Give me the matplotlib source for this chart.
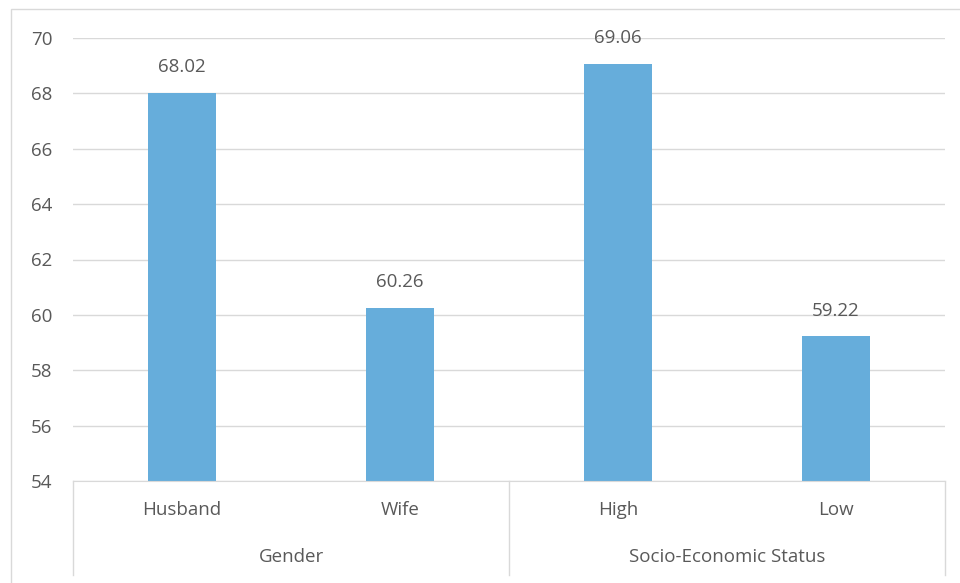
import matplotlib.pyplot as plt
from matplotlib.patches import Rectangle
from matplotlib.lines import Line2D

plt.rcParams['font.family'] = ['Open Sans', 'DejaVu Sans']

categories = ['Husband', 'Wife', 'High', 'Low']
values = [68.02, 60.26, 69.06, 59.22]
groups = ['Gender', 'Socio-Economic Status']
group_sizes = [2, 2]
yticks = [54, 56, 58, 60, 62, 64, 66, 68, 70]

text_col = '#595959'
grid_col = '#D9D9D9'
bar_col = '#66ADDB'
fs = 13.5

fig = plt.figure(figsize=(9.6, 5.83), dpi=100)
ax = fig.add_axes([73 / 960, 1 - 481 / 583, (945 - 73) / 960, (481 - 38) / 583])

x = list(range(len(categories)))
ax.bar(x, values, width=0.31, color=bar_col, zorder=2)
for xi, v in zip(x, values):
    ax.annotate(f'{v:.2f}', (xi, v), xytext=(0, 18.5), textcoords='offset points',
                ha='center', va='center', fontsize=fs, color=text_col)

ax.set_xlim(-0.5, len(categories) - 0.5)
ax.set_ylim(54, 70)
ax.set_yticks(yticks)
ax.yaxis.grid(True, color=grid_col, linewidth=1, zorder=0)
ax.tick_params(axis='y', length=0, labelsize=fs, labelcolor=text_col, pad=15)
ax.set_xticks([])
for s in ['top', 'right', 'left']:
    ax.spines[s].set_visible(False)
ax.spines['bottom'].set_color(grid_col)

# multi-level category axis drawn in figure coords
def fx(px):
    return px / 960

def fy(py):
    return 1 - py / 583

slot = (945 - 73) / len(categories)
for i, c in enumerate(categories):
    fig.text(fx(73 + slot * (i + 0.5)), fy(510), c, ha='center', va='center',
             fontsize=fs, color=text_col)

start = 0
bounds = [73]
for g, n in zip(groups, group_sizes):
    left = 73 + slot * start
    right = 73 + slot * (start + n)
    fig.text(fx((left + right) / 2), fy(557), g, ha='center', va='center',
             fontsize=fs, color=text_col)
    bounds.append(right)
    start += n
for b in bounds:
    fig.add_artist(Line2D([fx(b), fx(b)], [fy(481), fy(575)], color=grid_col, lw=1))

# outer chart border
fig.add_artist(Rectangle((fx(11), fy(600)), fx(1000), fy(9) - fy(600), fill=False,
                         edgecolor='#D9D9D9', lw=1, transform=fig.transFigure))

fig.savefig('out.png', dpi=100)
